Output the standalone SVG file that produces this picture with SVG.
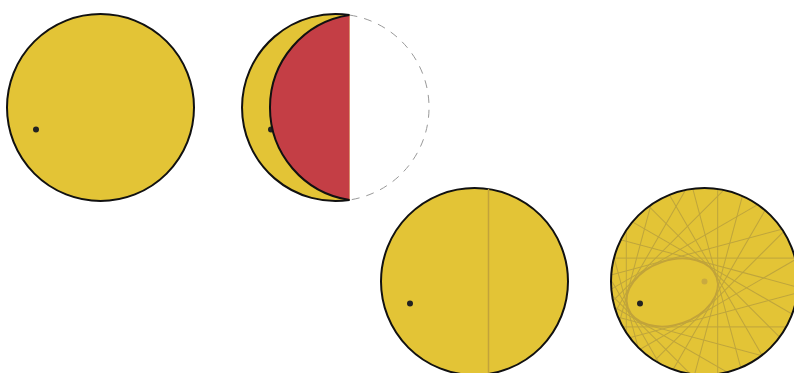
<svg xmlns="http://www.w3.org/2000/svg" width="794" height="373" viewBox="0 0 794 373">
<style>
.disk{fill:#e3c436;stroke:#111;stroke-width:2}
.fill{fill:#e3c436;stroke:none}
.edge{fill:none;stroke:#111;stroke-width:2}
.dot{fill:#222}
.crease{stroke:#c2a33a;stroke-width:1.5;fill:none}
.fold{stroke:#b89f3e;stroke-width:1;fill:none;opacity:0.85}
</style>
<defs>
<clipPath id="c4"><circle cx="704.5" cy="281.5" r="93.5"/></clipPath>
</defs>
<g id="step1">
<circle class="disk" cx="100.5" cy="107.5" r="93.5"/>
<circle class="dot" cx="36" cy="129.5" r="3"/>
</g>
<g id="step2">
<path class="fill" d="M349.5,15.05 A93.5,93.5 0 1 0 349.5,199.95 Z"/>
<path class="edge" d="M349.5,15.05 A93.5,93.5 0 1 0 349.5,199.95"/>
<circle class="dot" cx="271" cy="129.5" r="3"/>
<path d="M349.5,15.05 A93.5,93.5 0 0 0 349.5,199.95 Z" fill="#c43e45" stroke="none"/>
<path class="edge" d="M349.5,15.05 A93.5,93.5 0 0 0 349.5,199.95"/>
<path d="M349.5,15.05 A93.5,93.5 0 0 1 349.5,199.95" fill="none" stroke="#999" stroke-width="1" stroke-dasharray="8 7"/>
</g>
<g id="step3">
<circle class="disk" cx="474.5" cy="281.5" r="93.5"/>
<line class="crease" x1="488.5" y1="189" x2="488.5" y2="374"/>
<circle class="dot" cx="410" cy="303.5" r="3"/>
</g>
<g id="step4">
<circle class="fill" cx="704.5" cy="281.5" r="93.5"/>
<g clip-path="url(#c4)">
<g class="fold" transform="translate(640,303.5)">
<line x1="77.7" y1="-250" x2="77.7" y2="250" transform="rotate(0)"/>
<line x1="71.1" y1="-250" x2="71.1" y2="250" transform="rotate(15)"/>
<line x1="61.7" y1="-250" x2="61.7" y2="250" transform="rotate(30)"/>
<line x1="50.7" y1="-250" x2="50.7" y2="250" transform="rotate(45)"/>
<line x1="39.7" y1="-250" x2="39.7" y2="250" transform="rotate(60)"/>
<line x1="30.4" y1="-250" x2="30.4" y2="250" transform="rotate(75)"/>
<line x1="23.4" y1="-250" x2="23.4" y2="250" transform="rotate(90)"/>
<line x1="18.8" y1="-250" x2="18.8" y2="250" transform="rotate(105)"/>
<line x1="15.9" y1="-250" x2="15.9" y2="250" transform="rotate(120)"/>
<line x1="14.2" y1="-250" x2="14.2" y2="250" transform="rotate(135)"/>
<line x1="13.3" y1="-250" x2="13.3" y2="250" transform="rotate(150)"/>
<line x1="13.2" y1="-250" x2="13.2" y2="250" transform="rotate(165)"/>
<line x1="13.7" y1="-250" x2="13.7" y2="250" transform="rotate(180)"/>
<line x1="15.0" y1="-250" x2="15.0" y2="250" transform="rotate(195)"/>
<line x1="17.3" y1="-250" x2="17.3" y2="250" transform="rotate(210)"/>
<line x1="21.0" y1="-250" x2="21.0" y2="250" transform="rotate(225)"/>
<line x1="26.8" y1="-250" x2="26.8" y2="250" transform="rotate(240)"/>
<line x1="35.05" y1="-250" x2="35.05" y2="250" transform="rotate(255)"/>
<line x1="45.4" y1="-250" x2="45.4" y2="250" transform="rotate(270)"/>
<line x1="56.6" y1="-250" x2="56.6" y2="250" transform="rotate(285)"/>
<line x1="66.9" y1="-250" x2="66.9" y2="250" transform="rotate(300)"/>
<line x1="75.0" y1="-250" x2="75.0" y2="250" transform="rotate(315)"/>
<line x1="79.8" y1="-250" x2="79.8" y2="250" transform="rotate(330)"/>
<line x1="80.7" y1="-250" x2="80.7" y2="250" transform="rotate(345)"/>
</g>
</g>
<ellipse cx="672.25" cy="292.5" rx="46.75" ry="32" transform="rotate(-18.83 672.25 292.5)" fill="none" stroke="#c2a33a" stroke-width="1.5"/>
<circle class="edge" cx="704.5" cy="281.5" r="93.5"/>
<circle cx="704.5" cy="281.5" r="3" fill="#c9aa40"/>
<circle class="dot" cx="640" cy="303.5" r="3"/>
</g>
</svg>
